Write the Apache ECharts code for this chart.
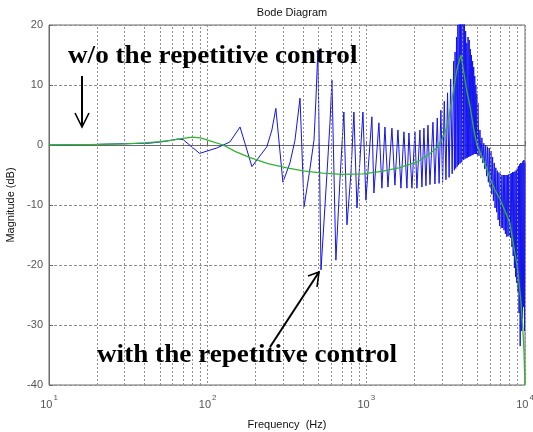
<!DOCTYPE html>
<html>
<head>
<meta charset="utf-8">
<script src="https://cdn.jsdelivr.net/npm/echarts@6/dist/echarts.min.js"></script>
<style>
  html, body { margin: 0; padding: 0; background: #fff; }
  #main { width: 533px; height: 432px; }
</style>
</head>
<body>
<div id="main"></div>
<script>
// y ticks (dB) and x decades (Hz)
var yTicks = [-40, -30, -20, -10, 0, 10, 20];
var decades = [10, 100, 1000, 10000];
var minorFreqs = [20, 30, 40, 50, 60, 70, 80, 90,
  200, 300, 400, 500, 600, 700, 800, 900,
  2000, 3000, 4000, 5000, 6000, 7000, 8000, 9000];

// w/o repetitive control  [Hz, dB]
var withoutRC = [[10, 0], [15, 0.05], [20, 0.1], [30, 0.2], [40, 0.35], [50, 0.55], [60, 0.8], [70, 1.1],
  [80, 1.3], [90, 1.2], [100, 0.8], [125, 0], [150, -1.1], [185, -2.1], [240, -3.1], [316, -3.8],
  [400, -4.3], [530, -4.7], [700, -4.9], [950, -4.8], [1250, -4.4], [1600, -3.8], [2100, -2.8],
  [2500, -1.5], [2800, -0.4], [3000, 1], [3220, 3], [3360, 5.5], [3515, 8.5], [3720, 12.5],
  [3950, 15], [4120, 12], [4300, 9], [4500, 6.5], [4760, 2.5], [4980, 0], [5200, -1.2],
  [5750, -4], [6010, -5.5], [6460, -7.5], [6950, -9], [7470, -11], [8030, -13], [8510, -17],
  [9020, -21], [9420, -26], [9700, -31], [9840, -34], [10000, -40]];

// with repetitive control, low/mid band  [Hz, dB]
var withRCLow = [[10, 0], [20, 0.1], [28, 0.2], [43, 0.3], [54, 0.6], [65, 1.0], [70, 0.9], [89, -1.4],
  [114, -0.5], [138, 0.5], [160, 3.0], [190, -3.6], [236, -0.3], [254, 2.5], [269, 6.1], [298, -6.2],
  [330, -3], [355, 0.8], [382, 7.8], [405, -10.3], [441, -4], [468, 0.8], [481, 7.5], [495, 15.8],
  [518, -20.8], [565, -4.7], [590, 3.7], [607, 10.8], [643, -19.2], [682, -5.8], [722, 5.5],
  [755, -13.3], [800, -4.7], [835, 5.5], [873, -10.5], [952, 5.5], [994, -9.2], [1084, 4.7],
  [1116, -8], [1200, 3.7], [1254, -7.2], [1310, 3.0], [1368, -7], [1450, 2.8], [1514, -6.7],
  [1582, 2.5], [1652, -7.2], [1726, 2.2], [1802, -7.2], [1855, 2.0], [1938, -7.2], [2024, 2.2],
  [2084, -7.2], [2176, 2.5], [2241, -7], [2307, 2.8], [2375, -6.8], [2446, 3.3], [2518, -6.6],
  [2629, 3.8], [2706, -6.5]];

// with repetitive control, dense high band  [Hz, dB]
var withRCHigh = [[2800, 4.5], [2875, -6.4], [2950, 5.8], [3025, -6.2], [3100, 7.3], [3175, -5.8],
  [3250, 8.7], [3325, -5.4], [3400, 11], [3475, -4.8], [3550, 14], [3590, -4.2], [3625, 15.5],
  [3660, -3.9], [3700, 18], [3740, -3.6], [3775, 20], [3810, -3.3], [3850, 22], [3890, -3.1],
  [3925, 23], [3960, -2.9], [4000, 24], [4040, -2.7], [4075, 23], [4110, -2.5], [4150, 22],
  [4190, -2.3], [4225, 19], [4260, -2.2], [4300, 17], [4340, -2.1], [4375, 18], [4410, -2],
  [4450, 17.5], [4490, -1.9], [4525, 16], [4560, -1.8], [4600, 15], [4640, -1.7], [4675, 14],
  [4710, -1.6], [4750, 13], [4790, -1.5], [4825, 11.5], [4860, -1.5], [4900, 10], [4940, -1.5],
  [4975, 8.5], [5010, -1.6], [5050, 7], [5125, -1.8], [5200, 2.5], [5275, -2.2],
  [5350, 1.2], [5425, -3], [5500, 0.3], [5575, -4], [5650, 0], [5725, -5.2], [5800, -0.3],
  [5875, -6.2], [5950, -0.5], [6025, -7], [6100, -1], [6175, -8.2], [6250, -2], [6325, -9.3],
  [6400, -3], [6475, -10.5], [6550, -3.8], [6625, -11.2], [6700, -4.3], [6775, -12.5],
  [6850, -4.6], [6925, -13.5], [7000, -4.8], [7075, -13.8], [7150, -5], [7225, -13.8],
  [7300, -5], [7375, -14.2], [7450, -5], [7525, -14.8], [7600, -5], [7675, -15.3], [7750, -5],
  [7825, -15.2], [7900, -4.9], [7975, -15], [8050, -4.8], [8125, -15.5], [8200, -4.7],
  [8275, -17], [8350, -4.5], [8425, -18.5], [8500, -4.5], [8575, -20.5], [8650, -4.4],
  [8725, -22], [8800, -4.2], [8875, -23], [8950, -3.8], [9025, -24.5], [9100, -3.5],
  [9175, -28], [9250, -3.2], [9325, -33.5], [9400, -3], [9475, -31], [9550, -3], [9625, -29],
  [9700, -2.7], [9775, -27], [9850, -2.5], [9925, -31], [10000, -3]];

var gridColor = '#8f8f8f';
var chart = echarts.init(document.getElementById('main'), null, { renderer: 'canvas' });

chart.setOption({
  animation: false,
  backgroundColor: '#fff',
  title: {
    text: 'Bode Diagram',
    left: 287,
    top: 2,
    textAlign: 'center',
    textStyle: { fontFamily: 'Liberation Sans', fontSize: 11, fontWeight: 'normal', color: '#111' }
  },
  grid: {
    left: 49, right: 8, top: 25, bottom: 47,
    outerBoundsMode: 'none',
    containLabel: false,
    show: true, borderColor: '#6a6a6a', borderWidth: 1
  },
  xAxis: {
    type: 'log',
    logBase: 10,
    min: decades[0],
    max: decades[decades.length - 1],
    name: 'Frequency  (Hz)',
    nameLocation: 'middle',
    nameGap: 34,
    nameTextStyle: { fontFamily: 'Liberation Sans', fontSize: 11, color: '#111' },
    axisLine: { lineStyle: { color: '#6a6a6a' } },
    axisTick: { show: true, inside: true, length: 4, lineStyle: { color: '#6a6a6a' } },
    splitLine: { show: true, lineStyle: { color: gridColor, type: [2, 2], width: 1 } },
    axisLabel: {
      margin: 9,
      formatter: function (v) {
        var e = Math.round(Math.log10(v));
        return '{b|10}{s|' + e + '}';
      },
      rich: {
        b: { fontFamily: 'Liberation Sans', fontSize: 11, color: '#555', verticalAlign: 'bottom', lineHeight: 16 },
        s: { fontFamily: 'Liberation Sans', fontSize: 8, color: '#555', verticalAlign: 'top', lineHeight: 16, padding: [0, 0, 0, 1] }
      }
    }
  },
  yAxis: {
    type: 'value',
    min: yTicks[0],
    max: yTicks[yTicks.length - 1],
    interval: 10,
    name: 'Magnitude (dB)',
    nameLocation: 'middle',
    nameGap: 33,
    nameTextStyle: { fontFamily: 'Liberation Sans', fontSize: 11, color: '#111' },
    axisLine: { show: true, lineStyle: { color: '#6a6a6a' } },
    axisTick: { show: true, inside: true, length: 4, lineStyle: { color: '#6a6a6a' } },
    splitLine: { show: true, lineStyle: { color: gridColor, type: [3, 2], width: 1 } },
    axisLabel: { margin: 6, fontFamily: 'Liberation Sans', fontSize: 11, color: '#555' }
  },
  series: [
    {
      // minor log grid lines
      type: 'line',
      data: [],
      z: 1,
      silent: true,
      markLine: {
        silent: true,
        symbol: ['none', 'none'],
        label: { show: false },
        lineStyle: { color: gridColor, type: [2, 2], width: 1 },
        data: minorFreqs.map(function (f) { return { xAxis: f }; })
      }
    },
    {
      name: 'with',
      type: 'line',
      data: withRCLow.concat(withRCHigh),
      showSymbol: false,
      z: 3,
      lineStyle: { color: '#1414f0', width: 1 },
      itemStyle: { color: '#1414f0' }
    },
    {
      name: 'without',
      type: 'line',
      data: withoutRC,
      showSymbol: false,
      z: 4,
      lineStyle: { color: '#2fb52f', width: 1.3 },
      itemStyle: { color: '#2fb52f' }
    }
  ],
  graphic: [
    {
      type: 'text', left: 68, top: 43, z: 100, scaleX: 1.045,
      style: { text: 'w/o the repetitive control', font: 'bold 26px "Liberation Serif"', fill: '#000' }
    },
    {
      type: 'text', left: 97, top: 342, z: 100, scaleX: 1.045,
      style: { text: 'with the repetitive control', font: 'bold 26px "Liberation Serif"', fill: '#000' }
    },
    {
      type: 'polyline', z: 100,
      shape: { points: [[82, 76], [82, 127]] },
      style: { stroke: '#000', lineWidth: 2, fill: null }
    },
    {
      type: 'polyline', z: 100,
      shape: { points: [[75, 113], [82, 127], [89, 113]] },
      style: { stroke: '#000', lineWidth: 1.6, fill: null }
    },
    {
      type: 'polyline', z: 100,
      shape: { points: [[270, 347], [319, 272]] },
      style: { stroke: '#000', lineWidth: 2, fill: null }
    },
    {
      type: 'polyline', z: 100,
      shape: { points: [[308, 276], [319, 272], [317, 287]] },
      style: { stroke: '#000', lineWidth: 1.6, fill: null }
    }
  ]
});
</script>
</body>
</html>
